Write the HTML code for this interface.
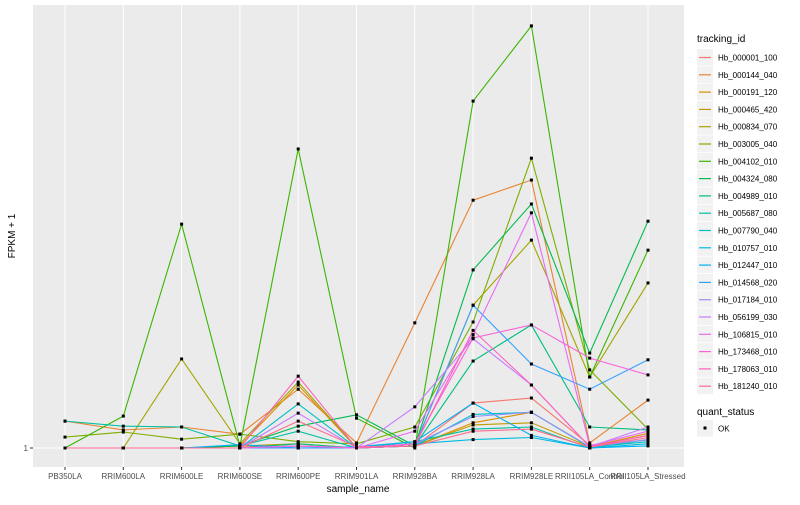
<!DOCTYPE html>
<html><head><meta charset="utf-8"><style>
body{margin:0;background:#fff;font-family:"Liberation Sans",sans-serif;}
svg text{font-family:"Liberation Sans",sans-serif;}
</style></head><body>
<svg id="chart" width="800" height="500" xmlns="http://www.w3.org/2000/svg">
<rect x="33" y="5" width="651" height="462" fill="#EBEBEB"/>
<g id="grid"></g><g id="lines"></g><g id="points"></g><g id="axes"></g><g id="legend"></g>
</svg>
<script>
const categories=["PB350LA","RRIM600LA","RRIM600LE","RRIM600SE","RRIM600PE","RRIM901LA","RRIM928BA","RRIM928LA","RRIM928LE","RRII105LA_Control","RRII105LA_Stressed"];
const seriesNames=["Hb_000001_100","Hb_000144_040","Hb_000191_120","Hb_000465_420","Hb_000834_070","Hb_003005_040","Hb_004102_010","Hb_004324_080","Hb_004989_010","Hb_005687_080","Hb_007790_040","Hb_010757_010","Hb_012447_010","Hb_014568_020","Hb_017184_010","Hb_056199_030","Hb_106815_010","Hb_173468_010","Hb_178063_010","Hb_181240_010"];
const s0=[0,0,0,0.5,0,0,0.5,10.7,11.9,0.7,1.9];
const s1=[6.4,4.3,5,3.3,14,1.2,29.8,59,63.8,1.2,11.4];
const s2=[0,0,0,0.5,15,0,0.5,6,8.5,0.3,3.5];
const s3=[0,0,0,0.5,1,0,0.5,5.5,6,0.3,3];
const s4=[0,0,21.2,1,15.7,0,0.5,34,49.5,16.9,39.3];
const s5=[2.6,3.8,2.1,3.3,1.5,1,5,30,69,18.6,4.5];
const s6=[0,7.6,53.3,0.5,71.2,7.1,0,82.6,100.5,16.9,47.1];
const s7=[0,0,0,0.5,5.2,7.9,0.5,42.4,58.1,22.6,54];
const s8=[0,0,0,0,1,0,0.5,20.7,29.3,5,4.3];
const s9=[6.4,5.2,5,0.5,4,0,1.5,4.5,5,0,2];
const s10=[0,0,0,0,10.5,0,0.5,8,8.5,0.2,1.5];
const s11=[0,0,0,0,0.5,0,1,2,2.5,0,1];
const s12=[0,0,0,0.8,0,0.3,1.5,10.7,3,0,0.5];
const s13=[0,0,0,0,0,0,0.5,34,20,14,21];
const s14=[0,0,0,0,0.5,0,1,7.5,8.5,0.3,2];
const s15=[0,0,0,0,8.3,0,9.8,26,15,0.3,5];
const s16=[0,0,0,0,0.5,0,4,27,56,0.5,4];
const s17=[0,0,0,0,0.5,0,1,26.2,29.3,21.4,17.4];
const s18=[0,0,0,0,17.1,0,0.5,28,15,0.3,3];
const s19=[0,0,0,0,6.4,0.3,0.5,4,4.5,0.2,2.5];
const seriesValues=[s0,s1,s2,s3,s4,s5,s6,s7,s8,s9,s10,s11,s12,s13,s14,s15,s16,s17,s18,s19];
const yTickLabels=["1"];
const yTickValues=[0];
const colors=["#F8766D","#EA8331","#D89000","#C09B00","#A3A500","#7CAE00","#39B600","#00BB4E","#00BF7D","#00C1A3","#00BFC4","#00BAE0","#00B0F6","#35A2FF","#9590FF","#C77CFF","#E76BF3","#FA62DB","#FF62BC","#FF6C91"];
const NS="http://www.w3.org/2000/svg";
function xs(i){return 65+i*58.3;}
function ys(v){return 448-v*4.2;}
function mk(tag,attrs,parent,txt){const e=document.createElementNS(NS,tag);for(const k in attrs)e.setAttribute(k,attrs[k]);if(txt!==undefined)e.textContent=txt;parent.appendChild(e);return e;}
const grid=document.getElementById('grid'),lines=document.getElementById('lines'),pts=document.getElementById('points'),axes=document.getElementById('axes'),leg=document.getElementById('legend');
categories.forEach((c,i)=>{
 const g=mk('line',{x1:xs(i),x2:xs(i),y1:5,y2:467,stroke:'#fff','stroke-width':1},grid);
 
 
 const t=mk('line',{x1:xs(i),x2:xs(i),y1:467,y2:470,stroke:'#333'},axes);
 
 
 const l=mk('text',{x:xs(i),y:479,'font-size':8,fill:'#4D4D4D','text-anchor':'middle'},axes,c);
 
 
});
yTickValues.forEach((v,i)=>{
 const g=mk('line',{x1:33,x2:684,y1:ys(v),y2:ys(v),stroke:'#fff','stroke-width':1},grid);
 
 
 const t=mk('line',{x1:30,x2:33,y1:ys(v),y2:ys(v),stroke:'#333'},axes);
 
 
 const l=mk('text',{x:28,y:ys(v)+3,'font-size':8,fill:'#4D4D4D','text-anchor':'end'},axes,yTickLabels[i]);
 
 
});
seriesValues.forEach((vals,s)=>{
 const p=mk('polyline',{points:vals.map((v,i)=>xs(i)+','+ys(v)).join(' '),fill:'none',stroke:colors[s],'stroke-width':1.1},lines);
 
 
 vals.forEach((v,i)=>{
  const r=mk('rect',{x:xs(i)-1.5,y:ys(v)-1.5,width:3,height:3,fill:'#000'},pts);
  
  
 });
});
const xt=mk('text',{x:358,y:492,'font-size':10,fill:'#000','text-anchor':'middle'},axes,'sample_name');


const yt=mk('text',{x:15,y:236,'font-size':10,fill:'#000','text-anchor':'middle',transform:'rotate(-90 15 236)'},axes,'FPKM + 1');


const lt=mk('text',{x:697,y:42,'font-size':10,fill:'#000'},leg,'tracking_id');


seriesNames.forEach((n,s)=>{
 const y=49+s*17.3;
 const g=mk('g',{},leg);
 
 
 mk('rect',{x:697,y:y,width:16,height:16.5,fill:'#F2F2F2'},g);
 mk('line',{x1:699,x2:711,y1:y+8.5,y2:y+8.5,stroke:colors[s],'stroke-width':1.2},g);
 mk('text',{x:718,y:y+11.5,'font-size':8,fill:'#000'},g,n);
});
const qt=mk('text',{x:697,y:415,'font-size':10,fill:'#000'},leg,'quant_status');


const qg=mk('g',{},leg);


mk('rect',{x:697,y:420,width:16,height:16.5,fill:'#F2F2F2'},qg);
mk('rect',{x:703.5,y:426.5,width:3,height:3,fill:'#000'},qg);
mk('text',{x:718,y:431.5,'font-size':8,fill:'#000'},qg,'OK');
</script>
</body></html>
